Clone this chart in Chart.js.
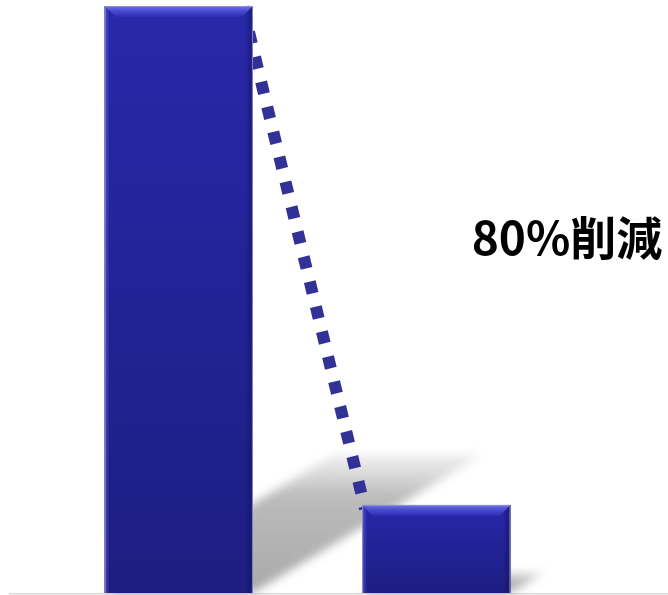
<!DOCTYPE html>
<html><head><meta charset="utf-8">
<script src="https://cdn.jsdelivr.net/npm/chart.js@4/dist/chart.umd.min.js"></script>
<style>html,body{margin:0;padding:0;background:#fff;}#wrap{width:668px;height:595px;position:relative}</style>
</head><body><div id="wrap"><canvas id="c" width="668" height="595"></canvas></div>
<script>
const categories = ['削減前', '削減後'];
const values = [100, 15];
const yMax = 100;
const reductionLabel = '80%削減';

function barBox(bar){
  const p = bar.getProps(['x','y','width','base'], true);
  return {x0: p.x - p.width/2, x1: p.x + p.width/2, top: p.y, base: p.base, w: p.width};
}

const decorPlugin = {
  id: 'decor',
  beforeDatasetsDraw(chart){
    const ctx = chart.ctx;
    const meta = chart.getDatasetMeta(0);
    ctx.save();
    const by = chart.scales.y.getPixelForValue(0);
    ctx.strokeStyle = '#d9d9d9';
    ctx.lineWidth = 1.5;
    ctx.beginPath(); ctx.moveTo(9, by + 0.75); ctx.lineTo(chart.width, by + 0.75); ctx.stroke();
    ctx.filter = 'blur(5px)';
    meta.data.forEach(bar => {
      const b = barBox(bar);
      const h = b.base - b.top;
      const dx = h * 0.39, dy = h * 0.235;
      const g = ctx.createLinearGradient(0, b.base, 0, b.base - dy);
      g.addColorStop(0, 'rgba(160,160,160,0.9)');
      g.addColorStop(0.7, 'rgba(175,175,175,0.85)');
      g.addColorStop(1, 'rgba(200,200,200,0.3)');
      ctx.fillStyle = g;
      ctx.beginPath();
      ctx.moveTo(b.x0, b.base); ctx.lineTo(b.x1, b.base);
      ctx.lineTo(b.x1 + dx, b.base - dy); ctx.lineTo(b.x0 + dx, b.base - dy);
      ctx.closePath(); ctx.fill();
    });
    ctx.restore();
  },
  afterDatasetsDraw(chart){
    const ctx = chart.ctx;
    const meta = chart.getDatasetMeta(0);
    const boxes = meta.data.map(barBox);
    ctx.save();
    const a = boxes[0], c = boxes[1];
    ctx.strokeStyle = '#323296';
    ctx.lineWidth = 12;
    ctx.lineCap = 'butt';
    ctx.setLineDash([12, 13.7]);
    ctx.beginPath();
    ctx.moveTo(a.x1 - 10, a.top + 1);
    ctx.lineTo(c.x0 + 3, c.top + 4);
    ctx.stroke();
    ctx.setLineDash([]);
    boxes.forEach(b => {
      const h = b.base - b.top;
      const g = ctx.createLinearGradient(0, b.top, 0, b.base);
      g.addColorStop(0, '#2828aa');
      g.addColorStop(1, '#1d1d82');
      ctx.fillStyle = g;
      ctx.fillRect(b.x0, b.top, b.w, h);
      const gr = ctx.createLinearGradient(b.x1 - 8, 0, b.x1, 0);
      gr.addColorStop(0, 'rgba(20,20,90,0)');
      gr.addColorStop(1, 'rgba(20,20,90,0.7)');
      ctx.fillStyle = gr;
      ctx.fillRect(b.x1 - 8, b.top, 8, h);
      const gl = ctx.createLinearGradient(b.x0, 0, b.x0 + 5, 0);
      gl.addColorStop(0, 'rgba(110,110,220,0.6)');
      gl.addColorStop(1, 'rgba(110,110,220,0)');
      ctx.fillStyle = gl;
      ctx.fillRect(b.x0, b.top, 5, h);
      const bh = 11;
      const gt = ctx.createLinearGradient(0, b.top, 0, b.top + bh);
      gt.addColorStop(0, '#7070f0');
      gt.addColorStop(0.45, '#4a4ad0');
      gt.addColorStop(1, '#2c2cb0');
      ctx.fillStyle = gt;
      ctx.beginPath();
      ctx.moveTo(b.x0, b.top); ctx.lineTo(b.x1, b.top);
      ctx.lineTo(b.x1 - bh, b.top + bh); ctx.lineTo(b.x0 + bh, b.top + bh);
      ctx.closePath(); ctx.fill();
      ctx.strokeStyle = 'rgba(150,150,205,0.9)';
      ctx.lineWidth = 1;
      ctx.beginPath();
      ctx.moveTo(b.x0 + 0.5, b.base); ctx.lineTo(b.x0 + 0.5, b.top + 0.5);
      ctx.lineTo(b.x1 - 0.5, b.top + 0.5); ctx.lineTo(b.x1 - 0.5, b.base);
      ctx.stroke();
    });
    ctx.fillStyle = '#000';
    ctx.font = 'bold 46px "Noto Sans CJK JP"';
    ctx.textAlign = 'center';
    ctx.textBaseline = 'middle';
    ctx.fillText(reductionLabel, 567, 238);
    ctx.restore();
  }
};

new Chart(document.getElementById('c'), {
  type: 'bar',
  data: {
    labels: categories,
    datasets: [{
      data: values,
      backgroundColor: '#2424a0',
      borderWidth: 0,
      barPercentage: 0.576,
      categoryPercentage: 1
    }]
  },
  options: {
    responsive: false,
    animation: false,
    layout: { padding: { left: 50, right: 103, top: 6, bottom: 2 } },
    scales: {
      x: { display: false },
      y: { display: false, min: 0, max: yMax }
    },
    plugins: { legend: { display: false }, tooltip: { enabled: false } }
  },
  plugins: [decorPlugin]
});
</script>
</body></html>
